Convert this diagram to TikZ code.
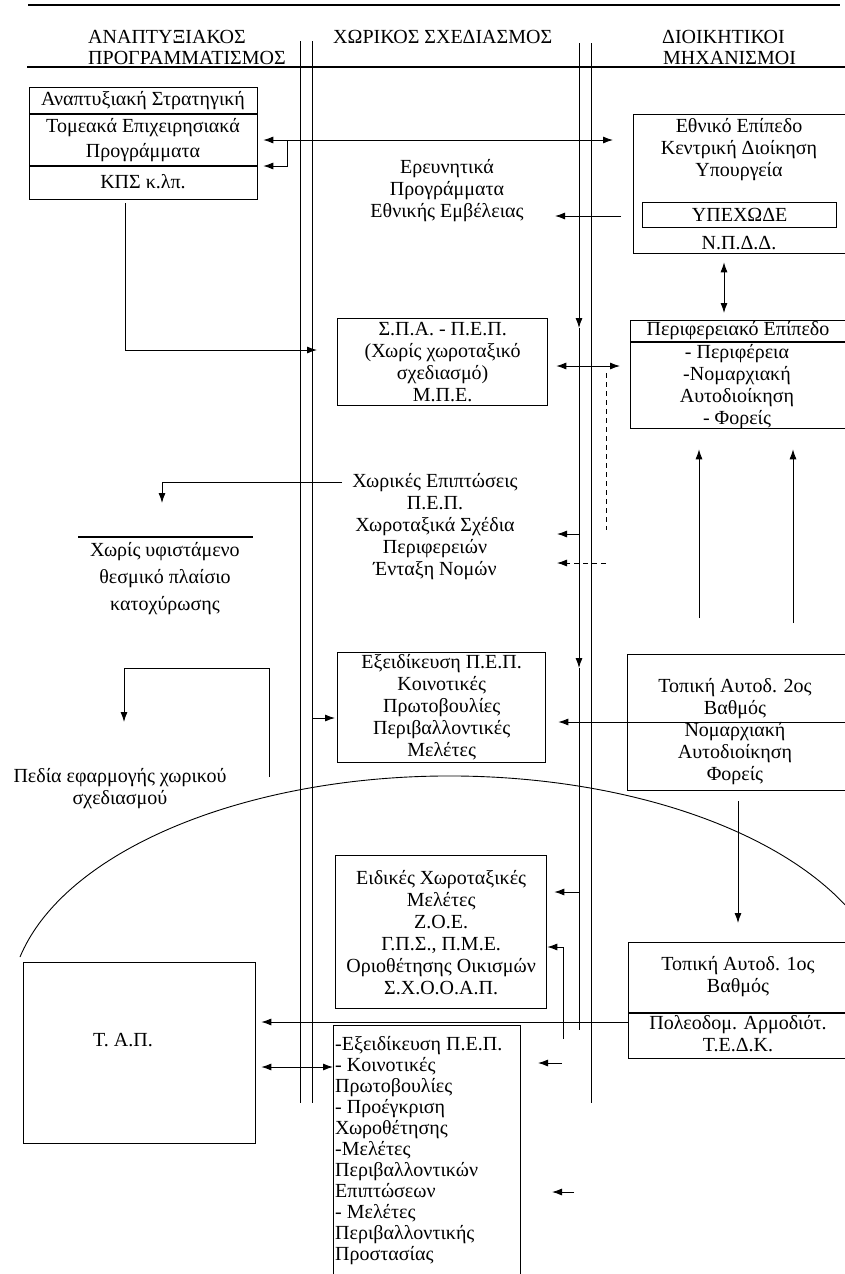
\documentclass[tikz,border=0pt]{standalone}
\usepackage{fontspec}
\setmainfont{Liberation Serif}
\usetikzlibrary{arrows.meta,positioning}

\begin{document}
\begin{tikzpicture}[x=1pt, y=-1pt, font=\fontsize{20}{22}\selectfont, >={Latex[length=10pt,width=7pt]},
  box/.style={draw, line width=1.3pt, anchor=north west, inner sep=0pt, align=center},
  lbl/.style={inner sep=0pt, align=center},
  hd/.style={inner sep=0pt, anchor=base west},
  arrow/.style={->, line width=0.9pt},
  dblarrow/.style={<->, line width=0.9pt},
  lane/.style={line width=0.9pt},
  rule/.style={line width=1.6pt},
  dashline/.style={line width=0.8pt, dash pattern=on 5pt off 4pt}]
  \useasboundingbox (0,0) rectangle (845,1274);

  % column headers
  \draw[rule] (28,5) -- (840,5);
  \draw[rule] (27,67) -- (845,67);
  \node[hd] (hdev1) at (88,43) {ΑΝΑΠΤΥΞΙΑΚΟΣ};
  \node[hd] (hdev2) at (88,64) {ΠΡΟΓΡΑΜΜΑΤΙΣΜΟΣ};
  \node[hd] (hdsp) at (333,43) {ΧΩΡΙΚΟΣ ΣΧΕΔΙΑΣΜΟΣ};
  \node[hd] (hdadm1) at (662,43) {ΔΙΟΙΚΗΤΙΚΟΙ};
  \node[hd] (hdadm2) at (663,64) {ΜΗΧΑΝΙΣΜΟΙ};

  % lane dividers
  \draw[lane] (300,41) -- (300,1103);
  \draw[lane] (312,41) -- (312,1103);
  \draw[lane, ->] (579,43) -- (579,328);
  \draw[lane, ->] (579,328) -- (579,668);
  \draw[lane] (579,668) -- (579,1030);
  \draw[lane] (591,43) -- (591,1103);

  % left column
  \node[box, minimum width=228pt, minimum height=112pt] (strat) at (29,87) {};
  \draw[line width=1.3pt] (strat.west |- 0,114) -- (strat.east |- 0,114);
  \draw[line width=1.3pt] (strat.west |- 0,166) -- (strat.east |- 0,166);
  \node[lbl] (strat1) at (143,101) {Αναπτυξιακή Στρατηγική};
  \node[lbl] (strat2) at (143,140) {Τομεακά Επιχειρησιακά\\[3pt]Προγράμματα};
  \node[lbl] (strat3) at (143,182) {ΚΠΣ κ.λπ.};

  \draw[line width=1.3pt] (78,537) -- (253,537);
  \node[lbl] (xoris) at (165,579) {Χωρίς υφιστάμενο\\[5pt]θεσμικό πλαίσιο\\[5pt]κατοχύρωσης};
  \node[lbl] (pedia) at (120,789) {Πεδία εφαρμογής χωρικού\\σχεδιασμού};
  \node[box, minimum width=232pt, minimum height=181pt] (tap) at (23,962) {};
  \node[lbl] (taptxt) at (123,1040) {Τ. Α.Π.};

  % middle column
  \node[lbl] (erevn) at (447,191) {Ερευνητικά\\Προγράμματα\\Εθνικής Εμβέλειας};
  \node[box, minimum width=210pt, minimum height=87pt] (spa) at (337,318)
    {Σ.Π.Α. - Π.Ε.Π.\\(Χωρίς χωροταξικό\\σχεδιασμό)\\Μ.Π.Ε.};
  \node[lbl] (xorik) at (435,527) {Χωρικές Επιπτώσεις\\Π.Ε.Π.\\Χωροταξικά Σχέδια\\Περιφερειών\\Ένταξη Νομών};
  \node[box, minimum width=208pt, minimum height=110pt] (exeid) at (337,652)
    {Εξειδίκευση Π.Ε.Π.\\Κοινοτικές\\Πρωτοβουλίες\\Περιβαλλοντικές\\Μελέτες};
  \node[box, minimum width=211pt, minimum height=153pt] (eidik) at (335,855)
    {Ειδικές Χωροταξικές\\Μελέτες\\Ζ.Ο.Ε.\\Γ.Π.Σ., Π.Μ.Ε.\\Οριοθέτησης Οικισμών\\Σ.Χ.Ο.Ο.Α.Π.};
  \node[box, minimum width=187pt, minimum height=280pt] (last) at (333,1025) {};
  \node[lbl, anchor=north west, align=left, font=\fontsize{20}{21}\selectfont] (lasttxt) at (335,1036)
    {-Εξειδίκευση Π.Ε.Π.\\- Κοινοτικές\\Πρωτοβουλίες\\- Προέγκριση\\Χωροθέτησης\\-Μελέτες\\Περιβαλλοντικών\\Επιπτώσεων\\- Μελέτες\\Περιβαλλοντικής\\Προστασίας};

  % right column
  \node[box, minimum width=220pt, minimum height=139pt] (ethn) at (633,114) {};
  \node[lbl] (ethn1) at (739,150) {Εθνικό Επίπεδο\\Κεντρική Διοίκηση\\Υπουργεία};
  \node[box, minimum width=194pt, minimum height=25pt] (ypexode) at (642,202) {ΥΠΕΧΩΔΕ};
  \node[lbl] (npdd) at (739,243) {Ν.Π.Δ.Δ.};
  \node[box, minimum width=220pt, minimum height=108pt] (perif) at (630,320) {};
  \draw[line width=1.3pt] (perif.west |- 0,342) -- (perif.east |- 0,342);
  \node[lbl] (perif1) at (738,331) {Περιφερειακό Επίπεδο};
  \node[lbl] (perif2) at (737,387) {- Περιφέρεια\\-Νομαρχιακή\\Αυτοδιοίκηση\\- Φορείς};
  \node[box, minimum width=223pt, minimum height=136pt] (topik2) at (627,654) {};
  \node[lbl] (topik2txt) at (735,732) {Τοπική Αυτοδ. 2ος\\Βαθμός\\Νομαρχιακή\\Αυτοδιοίκηση\\Φορείς};
  \node[box, minimum width=222pt, minimum height=116pt] (topik1) at (628,942) {};
  \draw[line width=1.3pt] (topik1.west |- 0,1013) -- (topik1.east |- 0,1013);
  \node[lbl] (topik1a) at (738,977) {Τοπική Αυτοδ. 1ος\\Βαθμός};
  \node[lbl] (topik1b) at (738,1034) {Πολεοδομ. Αρμοδιότ.\\Τ.Ε.Δ.Κ.};

  % connectors
  \coordinate (kink) at (287,140);
  \coordinate (erevnin) at (555,216);
  \draw[dblarrow, shorten <=5pt, shorten >=20pt] (strat.east |- kink) -- (ethn.west |- kink);
  \draw[arrow, shorten >=5pt] (kink) |- (strat.east |- 0,166);
  \draw[arrow, shorten <=3pt, shorten >=20pt] (strat.south -| 125,0) |- (spa.west |- 0,350);
  \draw[arrow, shorten <=12pt] (ethn.west |- erevnin) -- (erevnin);
  \draw[dblarrow, shorten <=8pt, shorten >=7pt] (ethn.south -| 724,0) -- (perif.north -| 724,0);
  \draw[dblarrow, shorten <=8pt, shorten >=10pt] (spa.east |- 0,366) -- (perif.west |- 0,366);
  \draw[dashline] (606,373) -- (606,530);
  \draw[dashline, ->] (606,563) -- (557,563);
  \draw[arrow] (579,534) -- (557,534);
  \draw[arrow] ([xshift=-10pt]xorik.west |- 0,482) -| (162,503);
  \draw[arrow] (269,777) |- (124,668) -- (124,722);
  \draw[arrow, shorten <=36pt, shorten >=20pt] (topik2.north -| 699,0) -- (perif.south -| 699,0);
  \draw[arrow, shorten <=31pt, shorten >=20pt] (topik2.north -| 793,0) -- (perif.south -| 793,0);
  \draw[arrow, shorten >=12pt] (848,722) -- (exeid.east |- 0,722);
  \draw[arrow, shorten >=2pt] (312,718) -- (exeid.west |- 0,718);
  \draw[arrow, shorten <=10pt, shorten >=19pt] (topik2.south -| 738,0) -- (topik1.north -| 738,0);
  \draw[line width=0.9pt] (20,957) arc[start angle=167.7, end angle=26.1, x radius=440pt, y radius=230pt];
  \draw[arrow, shorten >=7pt] (579,892) -- (eidik.east |- 0,892);
  \draw[arrow] (563,1039) |- (eidik.east |- 0,947);
  \draw[arrow, shorten >=5pt] (topik1.west |- 0,1022) -- (tap.east |- 0,1022);
  \draw[dblarrow, shorten <=5pt] (tap.east |- 0,1067) -- (last.west |- 0,1067);
  \draw[arrow] (562,1063) -- (538,1063);
  \draw[arrow] (574,1192) -- (552,1192);
\end{tikzpicture}
\end{document}
